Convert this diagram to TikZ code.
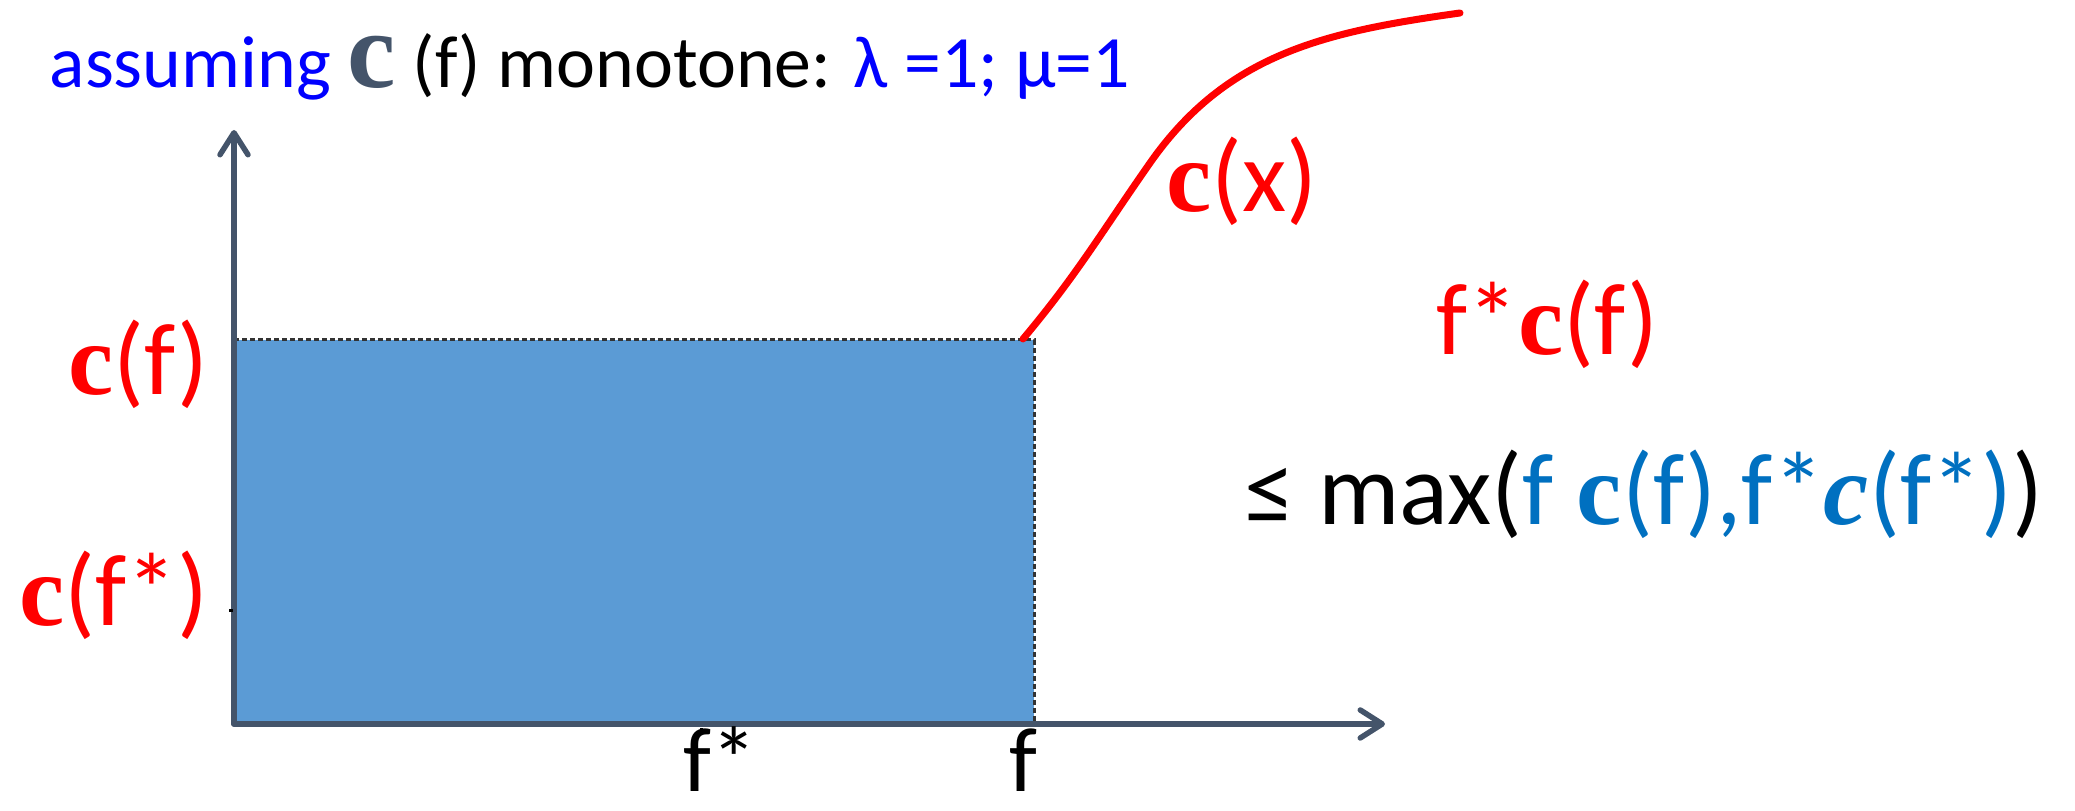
\documentclass[tikz,border=0pt]{standalone}
\usepackage{fontspec}
\setmainfont{Carlito}
\newfontfamily\cfam{Liberation Serif}
\usepackage{xcolor}
\usetikzlibrary{arrows.meta,positioning}

\definecolor{axisgray}{HTML}{44546A}
\definecolor{barblue}{HTML}{5B9BD5}
\definecolor{maxblue}{HTML}{0070C0}
\definecolor{titleblue}{HTML}{0000FF}
\newcommand{\bc}{{\cfam\bfseries c}}
\newcommand{\ic}{{\cfam\bfseries\itshape c}}

\begin{document}
\begin{tikzpicture}[x=0.1mm, y=0.1mm,
    font=\fontsize{29}{32}\selectfont,
    axis/.style={line width=0.55mm, axisgray, line cap=round,
      -{Straight Barb[round, length=2.2mm, width=2.8mm]}},
    edge/.style={line width=0.3mm, black!80, dash pattern=on 0.5mm off 0.3mm},
    lbl/.style={inner sep=0pt, red}]
  \useasboundingbox (0,0) rectangle (2075,811);

  % Axes
  \coordinate (O) at (234,87);
  \coordinate (ytip) at (234,681);
  \coordinate (xtip) at (1385,87);
  \coordinate (corner) at (1034,471);

  % Bar
  \fill[barblue] (O) rectangle (corner);
  \draw[edge] (O |- corner) -- (corner) -- (O -| corner);
  \draw[axis] (O) -- (ytip);
  \draw[axis] (O) -- (xtip);

  % Ticks
  \draw[black, line width=0.3mm] (229,200) -- (233,200);
  \draw[black, line width=0.3mm] (701,80) -- (701,83);

  % Cost curve
  \draw[red, line width=0.7mm, line cap=round]
    (1023,472) to[out=50, in=-125] (1150,648) to[out=55, in=-172] (1460,798);

  % Title
  \node[inner sep=0pt, anchor=base west, font=\fontsize{21}{24}\selectfont] (title) at (49,723)
    {\textcolor{titleblue}{assuming} \textcolor{axisgray}{\fontsize{31}{31}\selectfont\bc} (f) monotone: \textcolor{titleblue}{λ =1; μ=1}};

  % Labels
  \node[lbl, anchor=base east] (lblcf) at (209,416) {\bc(f)};
  \node[lbl, anchor=base east] (lblcfs) at (209,185) {\bc(f*)};
  \node[lbl, anchor=base west] (lblcx) at (1166,599) {\bc(x)};
  \node[lbl, anchor=base west] (lblfcf) at (1436,456) {f*\bc(f)};
  \node[inner sep=0pt, anchor=base west] (lblmax) at (1244,286)
    {≤ max(\textcolor{maxblue}{f \bc(f),f*\ic(f*)})};
  \node[inner sep=0pt, anchor=base, font=\fontsize{26}{28}\selectfont] (lblfs) at (720,19) {f*};
  \node[inner sep=0pt, anchor=base, font=\fontsize{26}{28}\selectfont] (lblf) at (1023,19) {f};
\end{tikzpicture}
\end{document}
